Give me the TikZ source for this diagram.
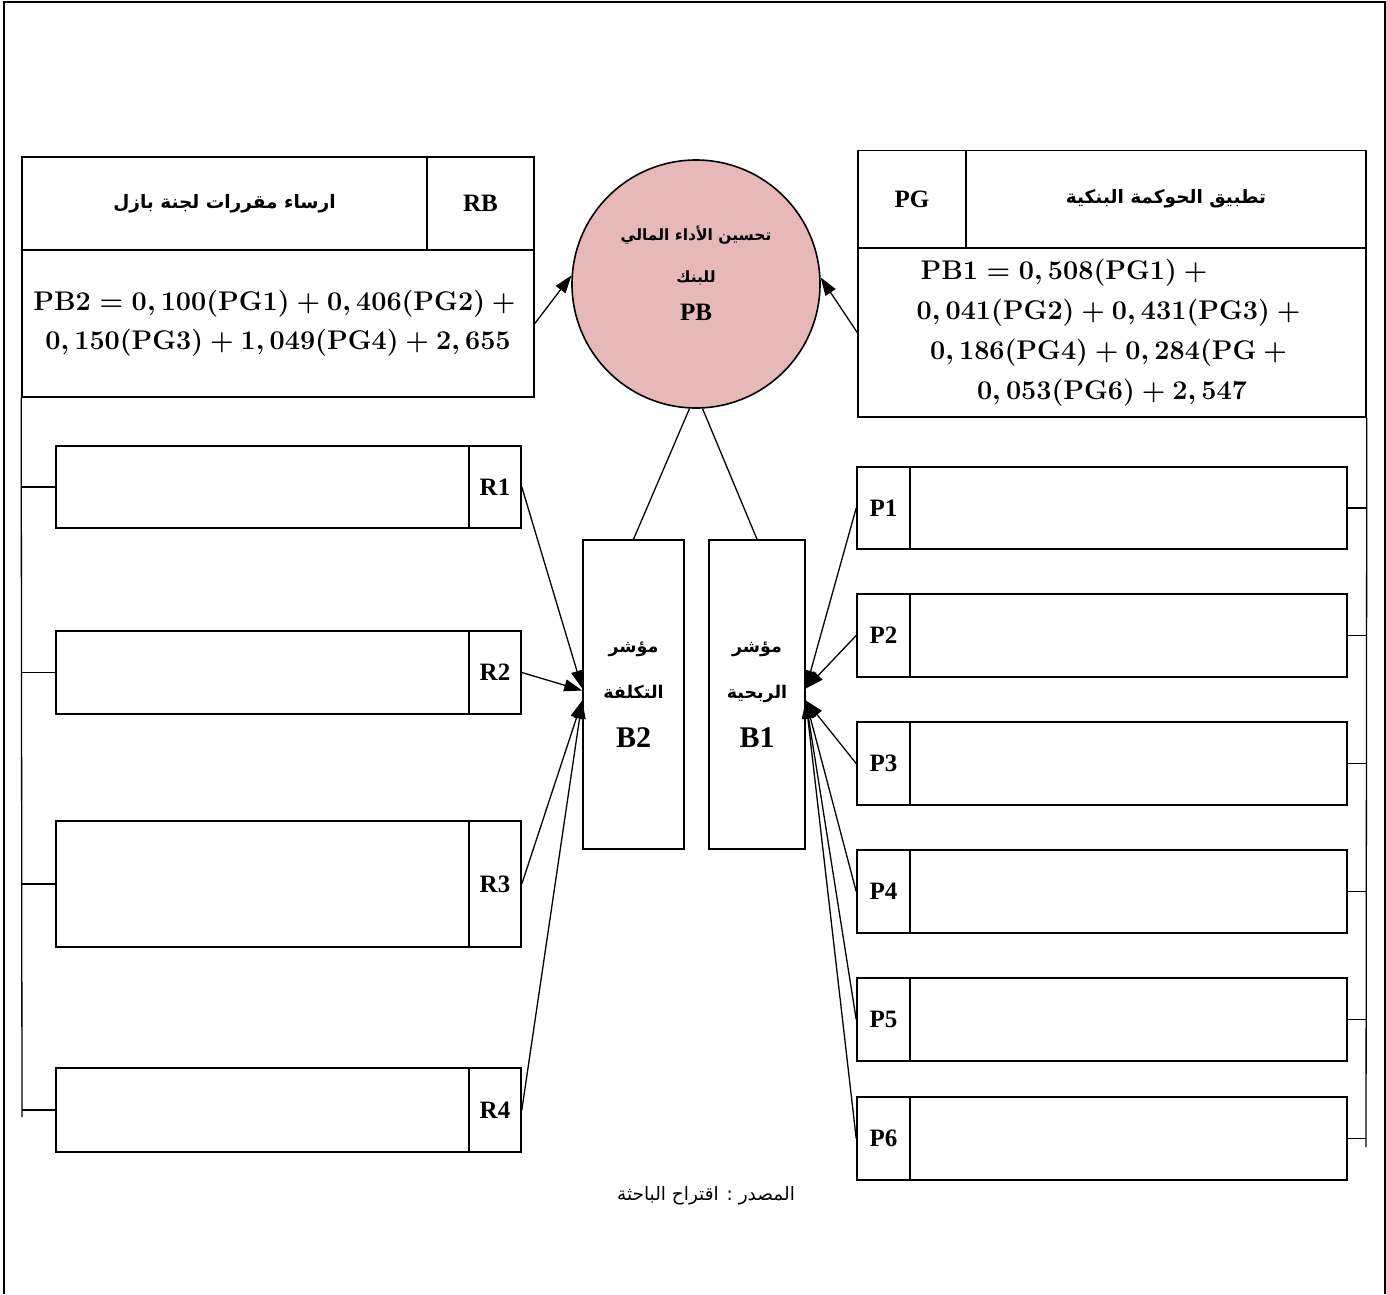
\documentclass[tikz,border=0pt]{standalone}
\usepackage{graphicx}
\usepackage{fontspec}
\setmainfont{Liberation Serif}
\newfontfamily\arabicfont[Script=Arabic]{DejaVu Sans}
\TeXXeTstate=1
\usetikzlibrary{arrows.meta}
\definecolor{pinkc}{HTML}{E6B8B7}
\newcommand\artxt[1]{{\arabicfont\beginR #1\endR}}
\newcommand\eqln[1]{\scalebox{1.085}{$#1$}}
\begin{document}
\begin{tikzpicture}[x=1pt,y=-1pt,
  box/.style={draw, line width=1.6pt, inner sep=0pt, anchor=center},
  sz/.style 2 args={minimum width=#1pt, minimum height=#2pt},
  lab/.style={font=\fontsize{25}{28}\selectfont\bfseries},
  artitle/.style={font=\fontsize{18.5}{22}\selectfont\bfseries},
  eqfont/.style={font=\fontsize{24.88}{39}\selectfont\boldmath, align=center},
  conn/.style={line width=1.3pt},
  arr/.style={line width=1.3pt, -{Triangle[length=18pt,width=12pt]}},
  tickln/.style={line width=1.3pt}]
\useasboundingbox (0,0) rectangle (1386,1294);
% frame
\draw[line width=1.8pt] (4,1294) -- (4,2) -- (1385,2) -- (1385,1294);

% left top block
\node[box, sz={405}{93}, artitle] (rbtitle) at (224.5,203.5) {\artxt{ارساء مقررات لجنة بازل}};
\node[box, sz={107}{93}, lab] (rb) at (480.5,203.5) {RB};
\node[box, sz={512}{147}, eqfont] (rbeq) at (278,323.5)
 {\eqln{\mathbf{PB2}=\mathbf{0,100}(\mathbf{PG1})+\mathbf{0,406}(\mathbf{PG2})+{}}\\
  \eqln{\mathbf{0,150}(\mathbf{PG3})+\mathbf{1,049}(\mathbf{PG4})+\mathbf{2,655}}};

% right top block
\node[box, sz={108}{97}, lab] (pg) at (912,199) {PG};
\node[box, sz={400}{97}, artitle] (pgtitle) at (1166,199) {\artxt{تطبيق الحوكمة البنكية}};
\node[box, sz={508}{169}, eqfont, font=\fontsize{24.88}{40}\selectfont\boldmath] (pgeq) at (1112,332.5)
 {\eqln{\mathbf{PB1}=\mathbf{0,508}(\mathbf{PG1})+{}}\hspace*{89pt}\\
  \eqln{\mathbf{0,041}(\mathbf{PG2})+\mathbf{0,431}(\mathbf{PG3})+{}}\\
  \eqln{\mathbf{0,186}(\mathbf{PG4})+\mathbf{0,284}(\mathbf{PG}+{}}\\
  \eqln{\mathbf{0,053}(\mathbf{PG6})+\mathbf{2,547}}};

% circle
\node[circle, draw, line width=1.6pt, fill=pinkc, minimum size=248pt, inner sep=0pt] (pb) at (696,284) {};
\node[align=center, font=\fontsize{15.5}{42}\selectfont\bfseries] (pbtext) at (696,273)
 {\artxt{تحسين الأداء المالي}\\\artxt{للبنك}\\[-4pt]{\fontsize{25}{28}\selectfont PB}};

% B2 and B1
\node[box, sz={101}{309}, align=center, font=\fontsize{17.5}{46}\selectfont\bfseries] (b2) at (633.5,694.5)
 {\artxt{مؤشر}\\\artxt{التكلفة}\\[3pt]{\fontsize{30}{32}\selectfont B2}};
\node[box, sz={96}{309}, align=center, font=\fontsize{17.5}{46}\selectfont\bfseries] (b1) at (757,694.5)
 {\artxt{مؤشر}\\\artxt{الربحية}\\[3pt]{\fontsize{30}{32}\selectfont B1}};

% R boxes
\node[box, sz={465}{82}] (r1box) at (288.5,487) {};
\node[box, sz={52}{82}, lab] (r1) at (495,487) {R1};
\node[box, sz={465}{83}] (r2box) at (288.5,672.5) {};
\node[box, sz={52}{83}, lab] (r2) at (495,672.5) {R2};
\node[box, sz={465}{126}] (r3box) at (288.5,884) {};
\node[box, sz={52}{126}, lab] (r3) at (495,884) {R3};
\node[box, sz={465}{84}] (r4box) at (288.5,1110) {};
\node[box, sz={52}{84}, lab] (r4) at (495,1110) {R4};

% P boxes
\node[box, sz={490}{82}] (p1box) at (1102,508) {};
\node[box, sz={53}{82}, lab] (p1) at (883.5,508) {P1};
\node[box, sz={490}{83}] (p2box) at (1102,635.5) {};
\node[box, sz={53}{83}, lab] (p2) at (883.5,635.5) {P2};
\node[box, sz={490}{83}] (p3box) at (1102,763.5) {};
\node[box, sz={53}{83}, lab] (p3) at (883.5,763.5) {P3};
\node[box, sz={490}{83}] (p4box) at (1102,891.5) {};
\node[box, sz={53}{83}, lab] (p4) at (883.5,891.5) {P4};
\node[box, sz={490}{83}] (p5box) at (1102,1019.5) {};
\node[box, sz={53}{83}, lab] (p5) at (883.5,1019.5) {P5};
\node[box, sz={490}{83}] (p6box) at (1102,1138.5) {};
\node[box, sz={53}{83}, lab] (p6) at (883.5,1138.5) {P6};

% side rails
\coordinate (lbot) at (22,1117);
\coordinate (rbot) at (1366,1147);
\draw[tickln] (rbeq.south west) -- (lbot);
\draw[tickln] (pgeq.south east) -- (rbot);
\foreach \n in {1,2,3,4} {
  \draw[tickln] (r\n box.west) -- (r\n box.west -| lbot);
}
\foreach \n in {1,2,3,4,5,6} {
  \draw[tickln] (p\n box.east) -- (p\n box.east -| rbot);
}

% arrows into circle
\draw[arr] (rbeq.east) -- (pb.176);
\draw[arr] (pgeq.west) -- (pb.3);
% circle to indicators
\draw[conn] (pb.267) -- (b2.north);
\draw[conn] (pb.273) -- (b1.north);
% R to B2
\draw[arr] (r1.east) -- ([yshift=6pt]b2.west);
\draw[arr] (r2.east) -- ([yshift=4pt]b2.west);
\draw[arr] (r3.east) -- ([yshift=-6pt]b2.west);
\draw[arr] (r4.east) -- ([yshift=-6pt]b2.west);
% P to B1
\draw[arr] (p1.west) -- ([yshift=6pt]b1.east);
\draw[arr] (p2.west) -- ([yshift=6pt]b1.east);
\draw[arr] (p3.west) -- ([yshift=-6pt]b1.east);
\draw[arr] (p4.west) -- ([yshift=-6pt]b1.east);
\draw[arr] (p5.west) -- ([yshift=-6pt]b1.east);
\draw[arr] (p6.west) -- ([yshift=-6pt]b1.east);

% caption
\node[font=\fontsize{18.5}{20}\selectfont] (src) at (706,1196) {\artxt{المصدر : اقتراح الباحثة}};
\end{tikzpicture}
\end{document}
